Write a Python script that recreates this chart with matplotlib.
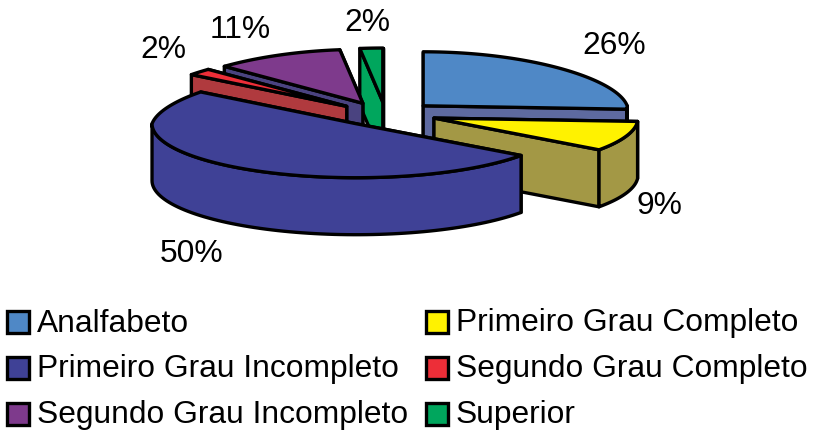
import numpy as np
import matplotlib.pyplot as plt
from matplotlib.patches import Polygon, Rectangle

plt.rcParams['font.family'] = ['Liberation Sans', 'DejaVu Sans']

categories = ['Analfabeto', 'Primeiro Grau Completo', 'Primeiro Grau Incompleto',
              'Segundo Grau Completo', 'Segundo Grau Incompleto', 'Superior']
percent = [26, 9, 50, 2, 11, 2]

top_colors = ['#4F88C6', '#FFF200', '#3F4196', '#ED2E38', '#7E3A8C', '#00A65D']
side_colors = ['#5E6AA0', '#A39845', '#3F4196', '#B03A3E', '#4A4380', '#00A65D']

# order the slices get painted in, back to front
paint_order = [5, 4, 3, 0, 1, 2]

label_pos = [(614, 46), (659, 206), (192, 254), (163, 50), (240, 30), (367, 23)]
legend_pos = [(7, 311), (426, 311), (7, 357), (426, 357), (7, 403), (426, 403)]

# pie geometry in pixels
CX, CY = 386, 114
RX, RY = 204, 54
DEPTH = 57
EXPLODE_X, EXPLODE_Y = 51, 12
BACK_SQUEEZE = 0.1
LW = 2.4
FONT = 22.9


def rim_point(x0, y0, t):
    """point on the ellipse, t in radians clockwise from 12 o'clock"""
    squeeze = 1 - BACK_SQUEEZE * np.maximum(np.cos(t), 0)
    return x0 + RX * np.sin(t) * squeeze, y0 - RY * np.cos(t)


def draw_slice(ax, start, end, top_color, side_color):
    mid = (start + end) / 2
    x0 = CX + EXPLODE_X * np.sin(mid)
    y0 = CY - EXPLODE_Y * np.cos(mid)

    # cut faces, the one further back first
    faces = []
    for t in (start, end):
        px, py = rim_point(x0, y0, t)
        faces.append([(px, py), (x0, y0), (x0, y0 + DEPTH), (px, py + DEPTH)])
    faces.sort(key=lambda f: f[0][1] + f[1][1])
    for face in faces:
        ax.add_patch(Polygon(face, closed=True, fc=side_color, ec='black', lw=LW, joinstyle='round'))

    # outer wall, only the part that faces the viewer
    a = max(start, np.pi / 2)
    b = min(end, 3 * np.pi / 2)
    if b > a:
        ts = np.linspace(a, b, 80)
        xs, ys = rim_point(x0, y0, ts)
        wall = list(zip(xs, ys)) + list(zip(xs[::-1], ys[::-1] + DEPTH))
        ax.add_patch(Polygon(wall, closed=True, fc=side_color, ec='black', lw=LW, joinstyle='round'))

    # top
    ts = np.linspace(start, end, 120)
    xs, ys = rim_point(x0, y0, ts)
    top = [(x0, y0)] + list(zip(xs, ys))
    ax.add_patch(Polygon(top, closed=True, fc=top_color, ec='black', lw=LW, joinstyle='round'))


def main():
    fig = plt.figure(figsize=(8.14, 4.32), dpi=100)
    ax = fig.add_axes([0, 0, 1, 1])
    ax.set_xlim(0, 814)
    ax.set_ylim(432, 0)
    ax.axis('off')

    bounds = np.concatenate([[0], np.cumsum(percent)]) / sum(percent) * 2 * np.pi
    for i in paint_order:
        draw_slice(ax, bounds[i], bounds[i + 1], top_colors[i], side_colors[i])

    for value, (x, y) in zip(percent, label_pos):
        ax.text(x, y, f'{value}%', fontsize=FONT, ha='center', va='center', color='black')

    for name, color, (x, y) in zip(categories, top_colors, legend_pos):
        ax.add_patch(Rectangle((x, y), 22, 22, fc=color, ec='black', lw=LW))
        ax.text(x + 30, y + 12.5, name, fontsize=FONT, ha='left', va='center', color='black')

    fig.savefig('out.png', dpi=100)


if __name__ == '__main__':
    main()
